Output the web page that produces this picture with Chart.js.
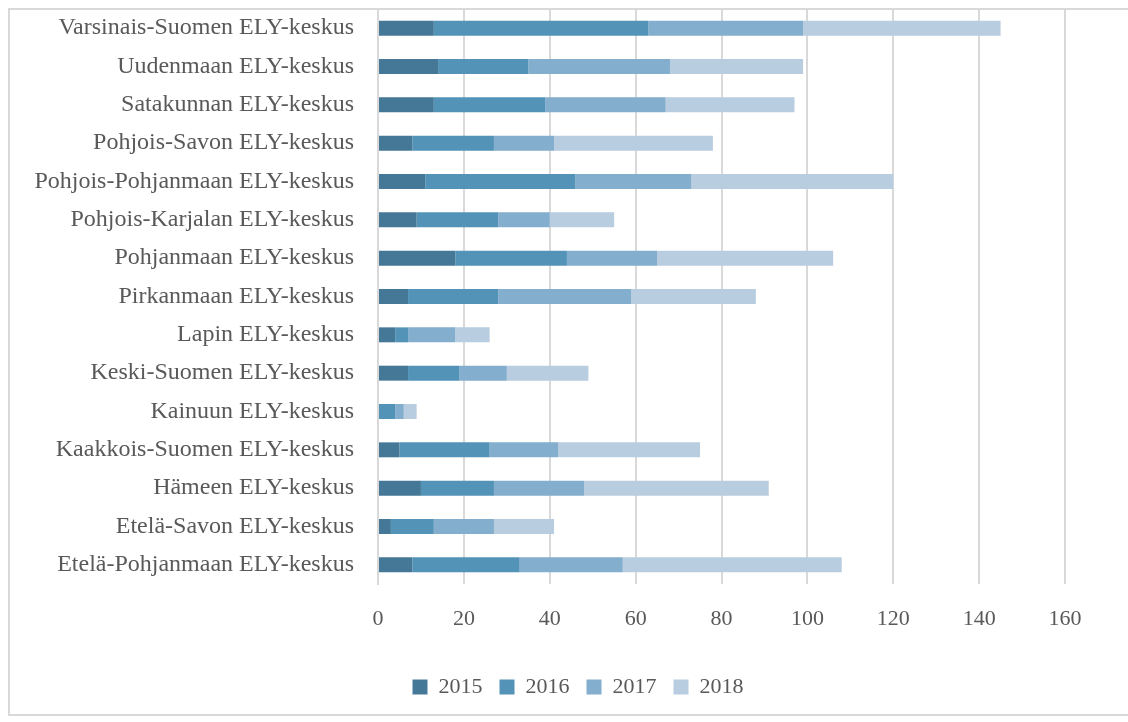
<!DOCTYPE html>
<html>
<head>
<meta charset="utf-8">
<script src="https://cdn.jsdelivr.net/npm/chart.js@4"></script>
<style>
  body { margin: 0; background: #fff; }
  #frame { position: absolute; left: 8px; top: 8px; width: 1130px; height: 708px; border: 2px solid #d9d9d9; box-sizing: border-box; }
  #canvas { position: absolute; left: 0; top: 0; }
</style>
</head>
<body>
<div id="frame"></div>
<canvas id="canvas" width="1128" height="722"></canvas>
<script>
const labels = [
  'Varsinais-Suomen ELY-keskus',
  'Uudenmaan ELY-keskus',
  'Satakunnan ELY-keskus',
  'Pohjois-Savon ELY-keskus',
  'Pohjois-Pohjanmaan ELY-keskus',
  'Pohjois-Karjalan ELY-keskus',
  'Pohjanmaan ELY-keskus',
  'Pirkanmaan ELY-keskus',
  'Lapin ELY-keskus',
  'Keski-Suomen ELY-keskus',
  'Kainuun ELY-keskus',
  'Kaakkois-Suomen ELY-keskus',
  'Hämeen ELY-keskus',
  'Etelä-Savon ELY-keskus',
  'Etelä-Pohjanmaan ELY-keskus',
]

const v2015 = [13, 14, 13, 8, 11, 9, 18, 7, 4, 7, 0, 5, 10, 3, 8]
const v2016 = [50, 21, 26, 19, 35, 19, 26, 21, 3, 12, 4, 21, 17, 10, 25]
const v2017 = [36, 33, 28, 14, 27, 12, 21, 31, 11, 11, 2, 16, 21, 14, 24]
const v2018 = [46, 31, 30, 37, 47, 15, 41, 29, 8, 19, 3, 33, 43, 14, 51]

const font = "'Liberation Serif', serif"
const textColor = '#595959'

const data = {
  labels: labels,
  datasets: [
    { label: '2015', data: v2015, backgroundColor: '#447896' },
    { label: '2016', data: v2016, backgroundColor: '#5393b7' },
    { label: '2017', data: v2017, backgroundColor: '#84aecd' },
    { label: '2018', data: v2018, backgroundColor: '#b9cde0' },
  ],
}

const config = {
  type: 'bar',
  data: data,
  options: {
    indexAxis: 'y',
    responsive: false,
    animation: false,
    layout: { padding: { top: 9, right: 0, left: 28, bottom: 14 } },
    datasets: {
      bar: { categoryPercentage: 1, barPercentage: 0.39, borderWidth: 0 },
    },
    scales: {
      x: {
        stacked: true,
        min: 0,
        max: 160,
        ticks: { stepSize: 20, color: textColor, font: { family: font, size: 22 }, padding: 22 },
        grid: { color: '#d9d9d9', lineWidth: 2, drawTicks: false },
        border: { display: false },
        afterFit: (scale) => { scale.height = 75 },
      },
      y: {
        stacked: true,
        ticks: { color: textColor, font: { family: font, size: 24 }, padding: 24, autoSkip: false },
        grid: { display: false, drawTicks: false },
        border: { display: true, color: '#d9d9d9', width: 2 },
        afterFit: (scale) => {
          scale.width = 350
          scale.paddingTop = 0
          scale.paddingBottom = 0
        },
      },
      // empty right-hand gutter so the plot ends at 160 like the original
      yRight: {
        axis: 'y',
        type: 'linear',
        position: 'right',
        ticks: { display: false },
        grid: { display: false, drawTicks: false },
        border: { display: false },
        afterFit: (scale) => {
          scale.width = 63
          scale.paddingTop = 0
          scale.paddingBottom = 0
        },
      },
    },
    plugins: {
      legend: {
        position: 'bottom',
        labels: {
          color: textColor,
          font: { family: font, size: 22 },
          boxWidth: 15,
          boxHeight: 15,
          padding: 17,
        },
      },
      tooltip: { enabled: false },
    },
  },
}

const canvas = document.getElementById('canvas')
const chart = new Chart(canvas, config)
</script>
</body>
</html>
